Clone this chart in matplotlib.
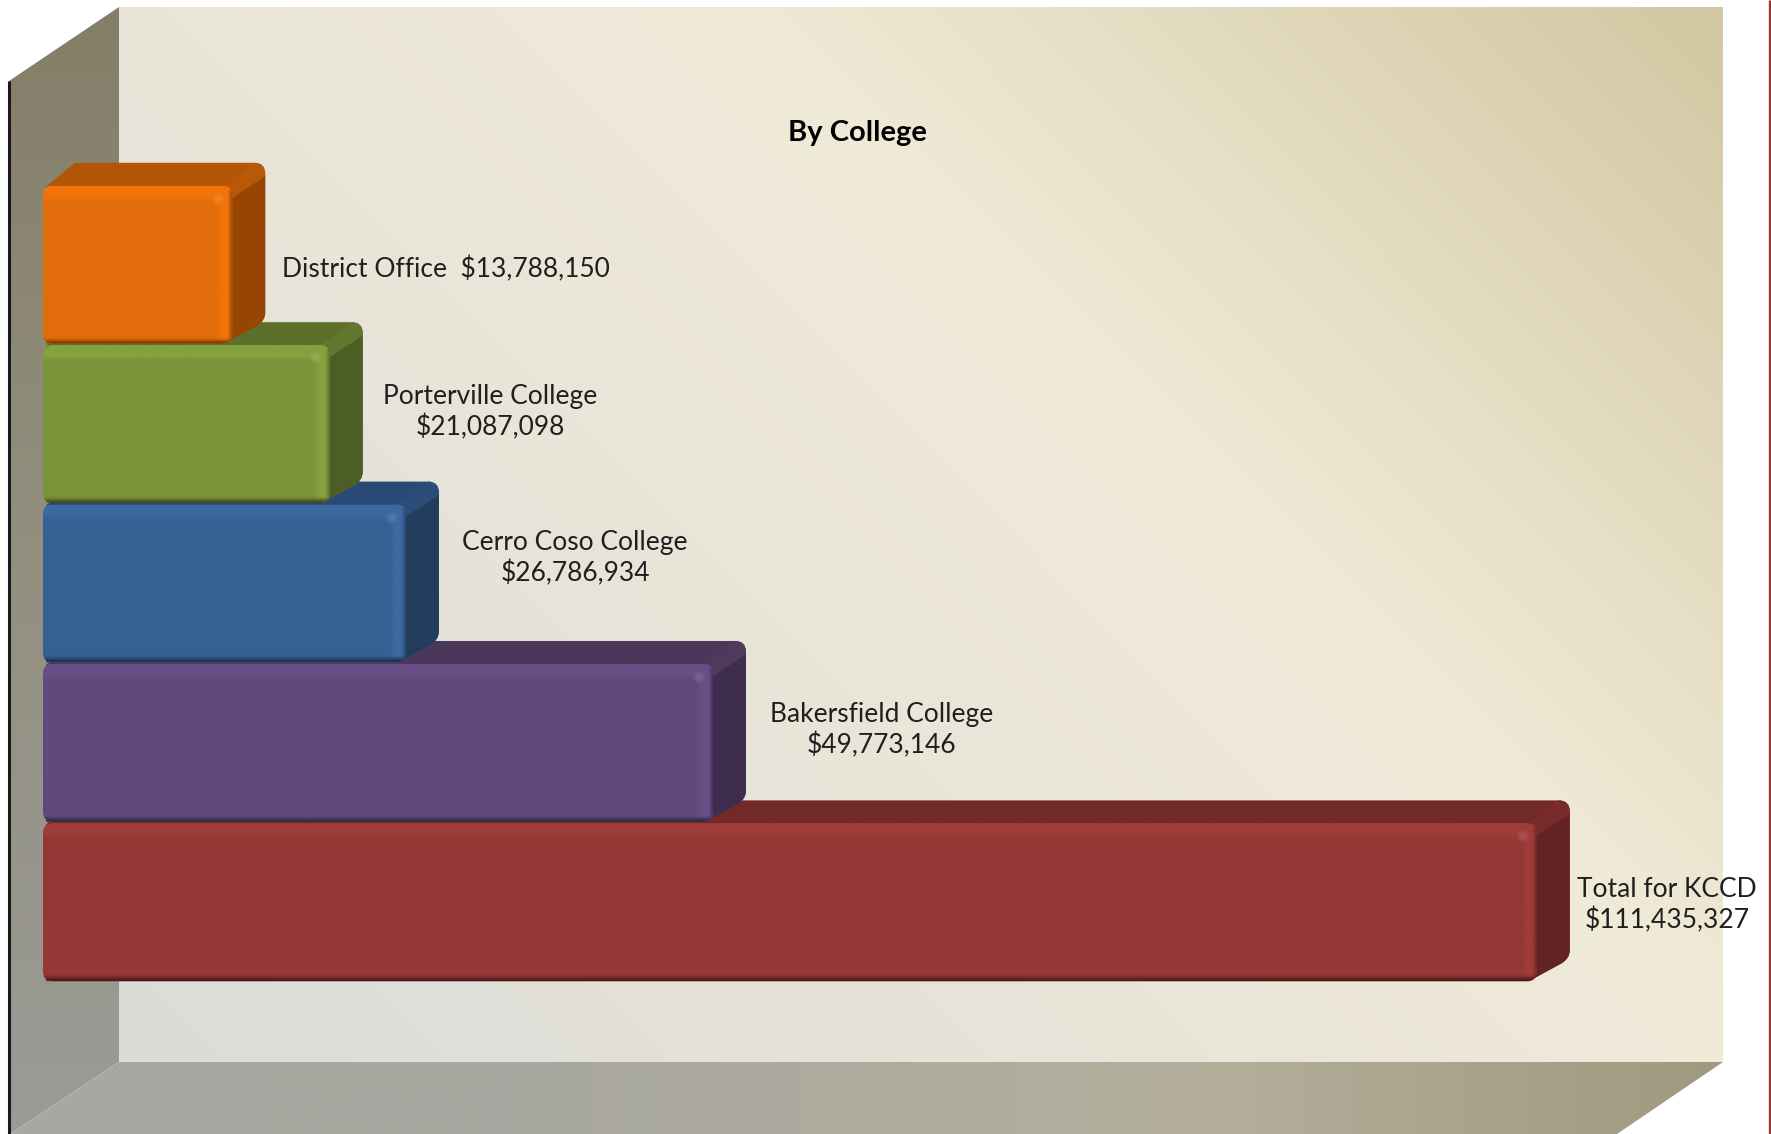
import numpy as np
import matplotlib
matplotlib.use("Agg")
import matplotlib.pyplot as plt
from matplotlib.colors import to_rgb
from matplotlib.patches import FancyBboxPatch, PathPatch, Polygon
from matplotlib.path import Path
from matplotlib.transforms import Affine2D

# ---- data (bottom bar first) ----
categories = ["Total for KCCD", "Bakersfield College", "Cerro Coso College",
              "Porterville College", "District Office"]
values = [111435327, 49773146, 26786934, 21087098, 13788150]
title = "By College"

# ---- styles ----
front_cols = ["#953735", "#604A7B", "#376092", "#7A943A", "#E36C0A"]
high_cols = ["#A03C3A", "#694F86", "#3C699F", "#85A23F", "#F1730B"]
top_cols = ["#722A28", "#4A3759", "#2A4A76", "#5C702C", "#B35506"]
ridge_cols = ["#772C2A", "#4E3A5D", "#2C4D7A", "#61762E", "#B95807"]
side_cols = ["#632322", "#3F2D50", "#213D5E", "#4C5E25", "#964503"]
FONT = "Lato"

W, H = 1771, 1134
fig = plt.figure(figsize=(W / 100, H / 100), dpi=100, facecolor="white")
ax = fig.add_axes([0, 0, 1, 1])
ax.set_axis_off()
pix = Affine2D().scale(1, -1).translate(0, H)   # figure pixels, y down


def lerp_rgb(t, stops):
    pos = [s[0] for s in stops]
    cols = np.array([to_rgb(s[1]) for s in stops])
    return np.dstack([np.interp(t, pos, cols[:, k]) for k in range(3)])


def grad_img(arr, ext, clip=None, z=1):
    im = ax.imshow(arr, extent=ext, transform=pix, aspect="auto", origin="upper",
                   interpolation="bilinear", zorder=z)
    if clip is not None:
        im.set_clip_path(clip)
    return im


def poly(pts, fc, z):
    p = Polygon(pts, closed=True, facecolor=fc, edgecolor="none", transform=pix, zorder=z)
    ax.add_patch(p)
    return p


# ---- 3D box walls ----
BL, BR, BT, BB = 119, 1723, 7, 1062
yy, xx = np.mgrid[BT:BB + 1:4, BL:BR + 1:4]
t = (xx - yy + 943) / 2659
wall = lerp_rgb(t, [(0, "#DBDBD9"), (0.62, "#F0EAD8"), (0.76, "#E6DFC5"), (1, "#D3C6A1")])
grad_img(wall, (BL, BR, BB, BT), z=1)

left_pts = [(9, 81), (BL, BT), (BL, BB), (10, H)]
lp = poly(left_pts, "none", 1)
lw = lerp_rgb(np.linspace(0, 1, 256)[:, None],
              [(0, "#847E68"), (0.5, "#939080"), (1, "#9B9B97")])
grad_img(lw, (9, BL, H, 7), clip=lp, z=1)

floor_pts = [(BL, BB), (BR, BB), (1617, H), (10, H)]
fp = poly(floor_pts, "none", 1)
fl = lerp_rgb(np.linspace(0, 1, 512)[None, :],
              [(0, "#A8A8A3"), (0.3, "#A9A8A1"), (0.7, "#B3AF9B"), (1, "#A1997F")])
grad_img(fl, (10, BR, H, BB), clip=fp, z=1)

ax.plot([9, 9], [81, H], color="#1A1A1A", lw=2.2, transform=pix, zorder=2,
        solid_capstyle="butt")
ax.plot([1770, 1770], [0, H], color="#953735", lw=2.4, transform=pix, zorder=2,
        solid_capstyle="butt")

# ---- scales: value -> pixel, category index -> pixel ----
X0, SX = 48.0, 13.36e-6          # x pixel of value 0, pixels per dollar
Y0, SY = 902.3, 159.4            # y pixel of category 0 centre, pixels per category
ax.set_xlim((0 - X0) / SX, (W - X0) / SX)
ax.set_ylim((Y0 - H) / SY, Y0 / SY)

# ---- bars ----
DX, DY = 33, 23
ypos = np.arange(len(values))
bars = ax.barh(ypos, values, height=0.99, left=0, color=front_cols, zorder=3)

for i, bar in enumerate(bars):
    z = 3 + i * 0.1
    (x0, y0), (x1, y1) = ax.transData.transform(
        [[bar.get_x(), bar.get_y()], [bar.get_x() + bar.get_width(), bar.get_y() + bar.get_height()]])
    L, R, B, T = x0 - 5, x1, H - y0, H - y1

    # silhouette of top + side
    rr, m, c, l = 11, Path.MOVETO, Path.CURVE3, Path.LINETO
    verts = [(L + 3, T + 1), (L + 32, T - DY), (R + DX - rr, T - DY), (R + DX, T - DY), (R + DX, T - DY + rr),
             (R + DX, B - DY - 8), (R + DX, B - DY), (R + DX - 8, B - DY + 5), (R - 8, B), (L + 3, B), (L + 3, T + 1)]
    codes = [m, l, l, c, c, l, c, c, l, l, Path.CLOSEPOLY]
    sil = PathPatch(Path(verts, codes), facecolor=top_cols[i], edgecolor="none", transform=pix, zorder=z)
    ax.add_patch(sil)
    side = poly([(R - 3, T + 14), (R + DX + 2, T - DY + 12), (R + DX + 2, B - DY + 8), (R - 8, B + 1)], side_cols[i], z)
    side.set_clip_path(sil)
    ridge = poly([(R - 10, T + 1), (R + DX - 10, T - DY - 1), (R + DX + 2, T - DY - 1), (R + DX + 2, T - DY + 12), (R - 3, T + 14)],
                 ridge_cols[i], z)
    ridge.set_clip_path(sil)

    # rounded front face: the bar itself, clipped
    frame = FancyBboxPatch((L + 6, T + 6), R - L - 12, B - T - 12, boxstyle="round,pad=6,rounding_size=10",
                           facecolor=front_cols[i], edgecolor="none", transform=pix, zorder=z + 0.01)
    ax.add_patch(frame)
    bar.set_zorder(z + 0.02)
    bar.set_clip_path(frame)

    hi = np.array(to_rgb(high_cols[i]))
    base = np.array(to_rgb(front_cols[i]))
    dark = base * 0.5

    def band(arr_alpha, ext, col, zz=z + 0.03):
        a = np.asarray(arr_alpha, float)
        rgba = np.zeros(a.shape + (4,))
        rgba[..., :3] = col
        rgba[..., 3] = a
        grad_img(rgba, ext, clip=frame, z=zz)

    # top highlight, right highlight, bottom shadow, corner glint
    band(np.array([1, 1, 1, 1, 1, 1, 0.7, 0.3, 0])[:, None], (L, R - 4, T + 17, T), hi)
    band(np.array([0, 0.3, 0.7, 1, 1, 1, 1, 1])[None, :], (R - 18, R, B - 4, T), hi)
    band(np.array([0, 0.1, 0.35, 0.7, 1])[:, None], (L, R, B, B - 8), dark, z + 0.04)
    band(np.array([0, 0.15, 0.5, 0.9])[None, :], (R - 6, R, B, T + 4), base * 0.72, z + 0.035)
    u = np.linspace(-1, 1, 15)
    glint = np.clip(1 - (u[:, None] ** 2 + u[None, :] ** 2), 0, 1) * 0.75
    band(glint, (R - 21, R - 7, T + 20, T + 6), hi * 0.85 + 0.15)

# ---- labels ----
def money(v):
    return f"${v:,.0f}"

lab_kw = dict(transform=pix, family=FONT, fontsize=19, color="#1F1F1F",
              ha="center", va="center", linespacing=1.25, zorder=10)
lab_pos = [(1667, 905), (882, 730), (575, 558), (490, 412)]
for i, (px, py) in enumerate(lab_pos):
    ax.text(px, py, f"{categories[i]}\n{money(values[i])}", **lab_kw)
ax.text(282, 269, f"{categories[4]}  {money(values[4])}",
        **{**lab_kw, "ha": "left"})
ax.text(857, 133, title, transform=pix, family=FONT, fontsize=21, fontweight="bold",
        color="black", ha="center", va="center", zorder=10)

fig.savefig("out.png", dpi=100, facecolor="white")
